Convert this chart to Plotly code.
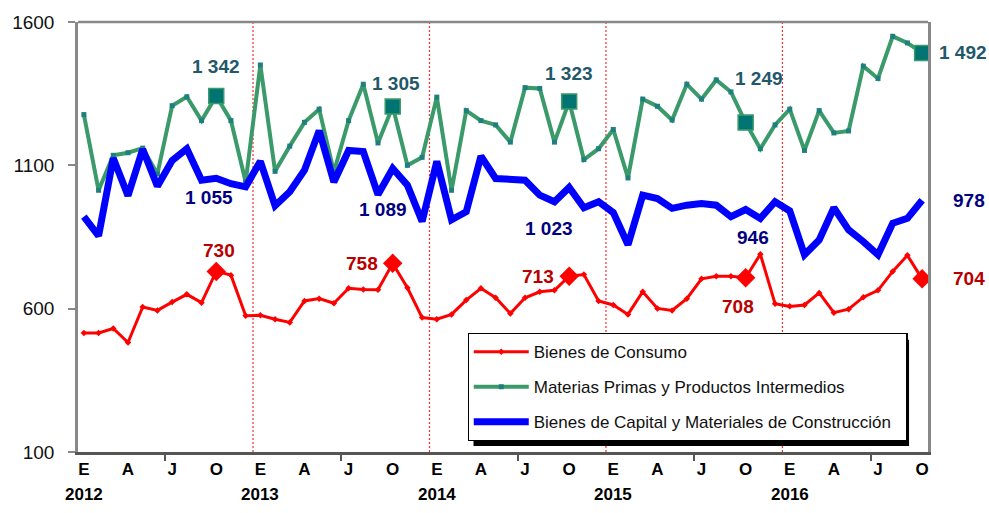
import plotly.graph_objects as go

# ---------------- data ----------------
month_letters = ["E", "F", "M", "A", "M", "J", "J", "A", "S", "O", "N", "D"]
years = ["2012", "2013", "2014", "2015", "2016"]
n_months = 58  # Jan 2012 .. Oct 2016

consumo = [515, 515, 531, 482, 606, 594, 623, 650, 621, 730, 717, 575,
           577, 563, 552, 627, 635, 619, 671, 667, 666, 758, 673, 569,
           563, 580, 630, 671, 638, 583, 638, 659, 664, 713, 719, 627,
           613, 580, 659, 601, 594, 635, 704, 713, 713, 708, 790, 617,
           608, 613, 655, 586, 598, 640, 664, 730, 786, 704]

materias = [1277, 1013, 1135, 1144, 1160, 1070, 1308, 1339, 1256, 1342, 1256, 1042,
            1450, 1079, 1167, 1250, 1296, 1077, 1256, 1383, 1178, 1305, 1100, 1128,
            1338, 1013, 1291, 1256, 1241, 1181, 1371, 1368, 1181, 1323, 1120, 1158,
            1225, 1056, 1331, 1306, 1258, 1383, 1331, 1398, 1356, 1249, 1158, 1241,
            1296, 1152, 1291, 1213, 1220, 1446, 1403, 1550, 1527, 1492]

capital = [921, 854, 1125, 994, 1156, 1027, 1117, 1158, 1048, 1055, 1036, 1025,
           1114, 959, 1008, 1083, 1221, 1042, 1152, 1148, 998, 1089, 1031, 904,
           1114, 910, 938, 1132, 1054, 1048, 1048, 996, 973, 1023, 952, 973,
           935, 823, 996, 984, 950, 961, 967, 961, 921, 946, 915, 973,
           941, 788, 840, 952, 875, 834, 788, 898, 915, 978]

highlight_idx = [9, 21, 33, 45, 57]  # October of each year

y_ticks = [100, 600, 1100, 1600]

# ---------------- derived ----------------
x = list(range(n_months))
tickvals = [i for i in x if i % 3 == 0]
ticktext = [month_letters[i % 12] for i in tickvals]
year_pos = [i for i in x if i % 12 == 0]
separators = [i - 0.5 for i in year_pos if i > 0]
minor_ticks = [i + 5.5 for i in year_pos]


def fmt(v):
    return f"{v:,}".replace(",", " ")


RED, GREEN, BLUE = "#FF0000", "#3A9A6A", "#0000FF"
RED_LBL, GREEN_LBL, BLUE_LBL = "#B80000", "#23586A", "#000080"
FONT = "Liberation Sans, Arial, sans-serif"

fig = go.Figure()

fig.add_trace(go.Scatter(
    x=x, y=consumo, mode="lines+markers", name="Bienes de Consumo",
    legendgroup="a",
    line=dict(color=RED, width=3),
    marker=dict(symbol="diamond", size=5, color=RED)))
fig.add_trace(go.Scatter(
    x=x, y=materias, mode="lines+markers",
    name="Materias Primas y Productos Intermedios", legendgroup="b",
    line=dict(color=GREEN, width=4),
    marker=dict(symbol="square", size=5, color="#1F7F7F")))
fig.add_trace(go.Scatter(
    x=x, y=capital, mode="lines",
    name="Bienes de Capital y Materiales de Construcción\u00a0\u00a0",
    legendgroup="c",
    line=dict(color=BLUE, width=7)))

# highlighted October markers
fig.add_trace(go.Scatter(
    x=highlight_idx, y=[materias[i] for i in highlight_idx], mode="markers",
    showlegend=False, hoverinfo="skip",
    marker=dict(symbol="square", size=15, color="#007373",
                line=dict(color=GREEN, width=1.5))))
fig.add_trace(go.Scatter(
    x=highlight_idx, y=[consumo[i] for i in highlight_idx], mode="markers",
    showlegend=False, hoverinfo="skip",
    marker=dict(symbol="diamond", size=15, color=RED)))

# value labels (pixel offsets relative to the point)
green_off = [(0, 29, "center"), (3, 23, "center"), (0, 28, "center"),
             (13, 44, "center"), (15, 0, "left")]
blue_off = [(-7, -19, "center"), (-10, -41, "center"), (-20, -41, "center"),
            (7, -28, "center"), (29, 0, "left")]
red_off = [(3, 21, "center"), (-31, 0, "center"), (-31, 0, "center"),
           (-8, -29, "center"), (29, 0, "left")]

annotations = []
for series, offs, col in ((materias, green_off, GREEN_LBL),
                          (capital, blue_off, BLUE_LBL),
                          (consumo, red_off, RED_LBL)):
    for i, (dx, dy, anc) in zip(highlight_idx, offs):
        annotations.append(dict(
            x=i, y=series[i], xref="x", yref="y", text=fmt(series[i]),
            showarrow=False, xshift=dx, yshift=dy, xanchor=anc,
            yanchor="middle",
            font=dict(family=FONT, size=19, color=col, weight="bold")))

for i, yr in zip(year_pos, years):
    annotations.append(dict(
        x=i, y=-0.099, xref="x", yref="paper", text=yr, showarrow=False,
        xanchor="center", yanchor="middle",
        font=dict(family=FONT, size=17, color="#000000", weight="bold")))

shapes = []
for s in separators:
    shapes.append(dict(type="line", xref="x", yref="paper", x0=s, x1=s,
                       y0=0, y1=1, line=dict(color="#FF2A2A", width=1.2,
                                             dash="2px,2px"), layer="below"))
# top frame line
shapes.append(dict(type="line", xref="paper", yref="paper", x0=0, x1=1,
                   y0=1, y1=1, line=dict(color="#888888", width=2.5)))
# legend shadow
shapes.append(dict(type="rect", xref="paper", yref="paper",
                   x0=0.4653, x1=0.9777, y0=0.0139, y1=0.261,
                   fillcolor="#000000", line=dict(width=0), layer="above"))

fig.update_layout(
    width=989, height=513,
    margin=dict(l=77, r=61, t=19, b=61),
    paper_bgcolor="white", plot_bgcolor="white",
    font=dict(family=FONT, color="#111111"),
    hovermode=False,
    showlegend=True,
    legend=dict(x=0.4583, y=0.277, xanchor="left", yanchor="top",
                bgcolor="white", bordercolor="#000000", borderwidth=1.2,
                font=dict(family=FONT, size=17, color="#111111"),
                tracegroupgap=10, itemwidth=55),
    annotations=annotations,
    shapes=shapes,
    xaxis=dict(range=[-0.4, 57.4], tickmode="array", tickvals=tickvals,
               ticktext=ticktext, ticks="", showgrid=False, zeroline=False,
               showline=True, linecolor="#555555", linewidth=2.5,
               tickfont=dict(family=FONT, size=17, color="#000000",
                             weight="bold"),
               minor=dict(tickmode="array", tickvals=minor_ticks,
                          ticks="outside", ticklen=6, tickcolor="#555555",
                          tickwidth=1.5, showgrid=False)),
    yaxis=dict(range=[100, 1600], tickmode="array", tickvals=y_ticks,
               ticks="outside", ticklen=7, tickcolor="#888888", tickwidth=1.5,
               ticklabelstandoff=10,
               showgrid=False, zeroline=False, showline=True,
               linecolor="#888888", linewidth=2.5, mirror=True,
               tickfont=dict(family=FONT, size=19, color="#111111")),
)

fig.write_html("out.html", config={"displayModeBar": False},
               post_script="document.body.style.margin='0';")
